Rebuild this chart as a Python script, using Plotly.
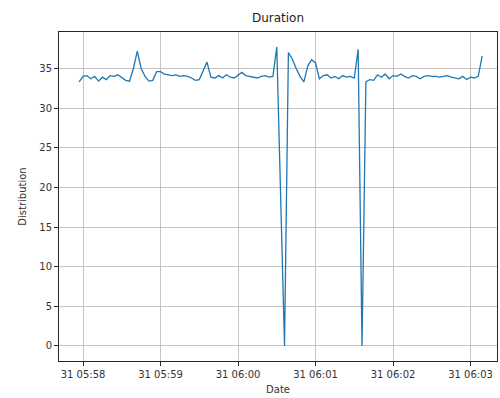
import pandas as pd
import plotly.graph_objects as go

# Duration readings sampled every 3 seconds
start_time = "2023-01-31 05:57:57"
sample_step = "3s"
duration = [
    33.3, 34.0, 34.1, 33.7, 34.0, 33.4, 33.9, 33.6, 34.1, 34.0,
    34.2, 33.9, 33.5, 33.4, 35.0, 37.2, 35.0, 34.0, 33.4, 33.5,
    34.6, 34.6, 34.3, 34.2, 34.1, 34.2, 34.0, 34.1, 34.0, 33.8,
    33.5, 33.6, 34.6, 35.8, 33.9, 33.8, 34.1, 33.8, 34.2, 33.9,
    33.8, 34.2, 34.5, 34.1, 34.0, 33.9, 33.8, 34.0, 34.1, 33.9,
    34.0, 37.7, 19.0, 0.0, 37.0, 36.2, 35.0, 34.0, 33.3, 35.3,
    36.1, 35.7, 33.7, 34.1, 34.2, 33.8, 34.0, 33.7, 34.1, 33.9,
    34.0, 33.8, 37.4, 0.0, 33.3, 33.6, 33.5, 34.2, 33.9, 34.3,
    33.7, 34.1, 34.0, 34.3, 34.0, 33.8, 34.1, 34.0, 33.7, 34.0,
    34.1, 34.0, 34.0, 33.9, 34.0, 34.1, 33.9, 33.8, 33.7, 34.0,
    33.6, 33.9, 33.8, 34.0, 36.6,
]
times = pd.date_range(start_time, periods=len(duration), freq=sample_step)

x_ticks = pd.date_range("2023-01-31 05:58:00", "2023-01-31 06:03:00", freq="1min")
y_ticks = [0, 5, 10, 15, 20, 25, 30, 35]

font_family = "DejaVu Sans, sans-serif"

fig = go.Figure(
    go.Scatter(
        x=times,
        y=duration,
        mode="lines",
        line=dict(color="#1f77b4", width=1.3),
    )
)

axis_common = dict(
    showline=True,
    linecolor="#262626",
    linewidth=1,
    mirror=True,
    showgrid=True,
    gridcolor="#c4c4c4",
    gridwidth=1,
    ticks="outside",
    ticklen=4,
    tickcolor="#262626",
    zeroline=False,
    tickfont=dict(family=font_family, size=10, color="#333333"),
)

fig.update_layout(
    width=500,
    height=398,
    margin=dict(l=59, r=3, t=32, b=37),
    paper_bgcolor="white",
    plot_bgcolor="white",
    showlegend=False,
    title=dict(
        text="Duration",
        x=0.5,
        xref="paper",
        xanchor="center",
        y=1,
        yref="container",
        yanchor="top",
        pad=dict(t=14),
        font=dict(family=font_family, size=12, color="#222222"),
    ),
    xaxis=dict(
        axis_common,
        type="date",
        range=["2023-01-31 05:57:41.4", "2023-01-31 06:03:20.5"],
        tickvals=list(x_ticks),
        ticktext=[t.strftime("%d %H:%M") for t in x_ticks],
        title=dict(text="Date", standoff=6,
                   font=dict(family=font_family, size=10, color="#333333")),
    ),
    yaxis=dict(
        axis_common,
        range=[-1.9, 39.6],
        tickvals=y_ticks,
        ticktext=[str(v) for v in y_ticks],
        title=dict(text="Distribution", standoff=10,
                   font=dict(family=font_family, size=10, color="#333333")),
    ),
)

fig.write_html("out.html")
